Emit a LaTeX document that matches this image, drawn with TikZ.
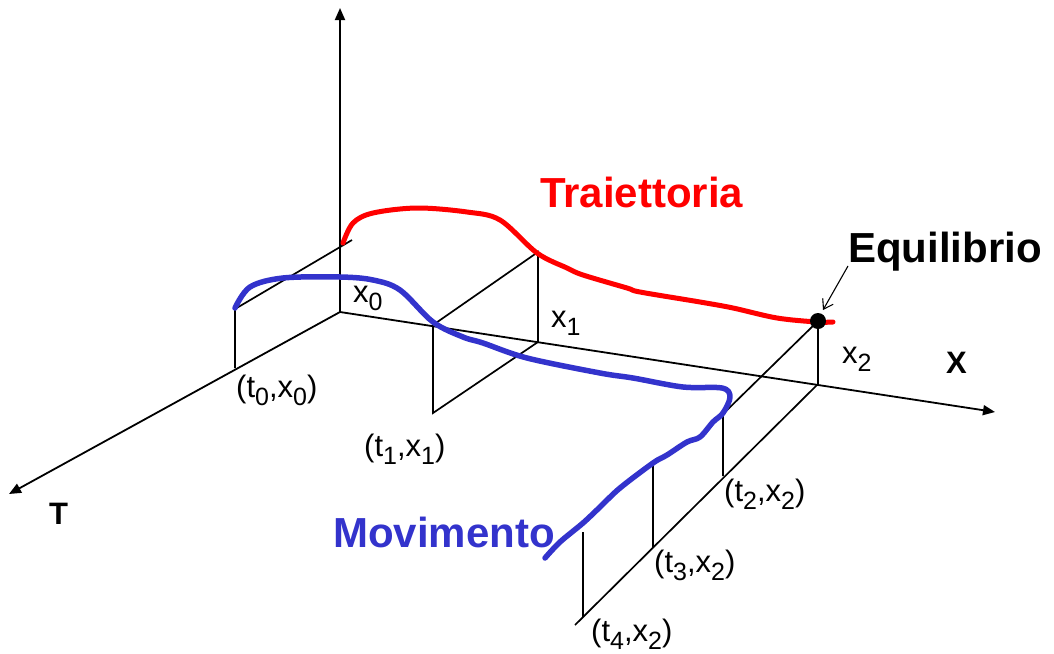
\documentclass[tikz,border=0pt]{standalone}
\usepackage{fontspec}
\setmainfont{Liberation Sans}
\usetikzlibrary{arrows.meta,calc}
\definecolor{trred}{RGB}{255,0,0}
\definecolor{mvblue}{RGB}{51,51,204}
\newcommand{\lowidx}[1]{\raisebox{-0.28em}{\fontsize{25}{25}\selectfont #1}}
\begin{document}
\begin{tikzpicture}[x=1pt,y=-1pt,
  axisline/.style={line width=1.8pt,-{Triangle[length=12pt,width=10pt]}},
  guide/.style={line width=1.7pt},
  lbl/.style={font=\fontsize{31}{34}\selectfont, inner sep=0pt, anchor=base west},
  bigl/.style={font=\fontsize{42}{46}\selectfont\bfseries, inner sep=0pt, anchor=base west},
  axl/.style={font=\fontsize{31}{34}\selectfont\bfseries, inner sep=0pt, anchor=base west},
]
\useasboundingbox (0,0) rectangle (1054,653);
% key points
\coordinate (O) at (340,312);
\coordinate (Vtop) at (340,8);
\coordinate (Xend) at (995,412);
\coordinate (Tend) at (9,494);
\coordinate (A0) at (235,368);
\coordinate (A0t) at (235,309);
\coordinate (E0) at (352,240);
\coordinate (T1) at (433,413);
\coordinate (T1t) at (433,325);
\coordinate (X1) at (538,342);
\coordinate (X1t) at (538,252);
\coordinate (Eq) at (818,321);
\coordinate (X2) at (818,384);
\coordinate (Bend) at (575,625);
\coordinate (T2t) at (723,414);
\coordinate (T2) at (723,476);
\coordinate (T3t) at (653,466);
\coordinate (T3) at (653,547);
\coordinate (T4t) at (583,532);
\coordinate (T4) at (583,617);
% axes
\draw[axisline] (O) -- (Vtop);
\draw[axisline] (O) -- (Xend);
\draw[axisline] (O) -- (Tend);
% guides
\draw[guide] (A0) -- (A0t) -- (E0);
\draw[guide] (T1) -- (X1) -- (X1t) -- (T1t) -- cycle;
\draw[guide] (X2) -- (Eq) -- (T2t) -- (T2);
\draw[guide] (X2) -- (Bend);
\draw[guide] (T3t) -- (T3);
\draw[guide] (T4t) -- (T4);
% curves
\draw[trred, line width=5pt, line cap=round, line join=round]
  plot[smooth, tension=0.55] coordinates {(343,243) (353,223) (373,213) (417,208) (467,212) (500,220) (537,253) (567,268) (583,275) (627,288) (640,292) (700,302) (733,308) (777,318) (817,322) (833,322)};
\draw[mvblue, line width=5.5pt, line cap=round, line join=round]
  plot[smooth, tension=0.55] coordinates {(235,308) (250,287) (283,278) (340,277) (373,280) (400,290) (433,322) (463,337) (483,343) (527,358) (600,373) (633,378) (683,387) (722,388) (730,397) (723,413) (713,422) (700,437) (687,442) (667,455) (653,463) (620,488) (600,507) (583,523) (560,542) (545,558)};
% equilibrium point
\fill (Eq) circle (8pt);
\node[bigl] (eqlabel) at (848,262) {Equilibrio};
\coordinate (eqarrowstart) at (848,266);
\draw[line width=1.1pt, -{Straight Barb[length=9pt,width=12pt]}] (eqarrowstart) -- ($(Eq)+(5,-11)$);
% labels
\node[bigl, text=trred] (trlabel) at (540,207) {Traiettoria};
\node[bigl, text=mvblue] (mvlabel) at (333,547) {Movimento};
\node[axl] (Tlabel) at (49,524) {T};
\node[axl] (Xlabel) at (946,373) {X};
\node[lbl] (x0) at (353,302) {x\lowidx{0}};
\node[lbl] (x1) at (551,327) {x\lowidx{1}};
\node[lbl] (x2) at (842,363) {x\lowidx{2}};
\node[lbl] (p0) at (236,397) {(t\lowidx{0},x\lowidx{0})};
\node[lbl] (p1) at (364,456) {(t\lowidx{1},x\lowidx{1})};
\node[lbl] (p2) at (724,501) {(t\lowidx{2},x\lowidx{2})};
\node[lbl] (p3) at (654,572) {(t\lowidx{3},x\lowidx{2})};
\node[lbl] (p4) at (591,641) {(t\lowidx{4},x\lowidx{2})};
\end{tikzpicture}
\end{document}
